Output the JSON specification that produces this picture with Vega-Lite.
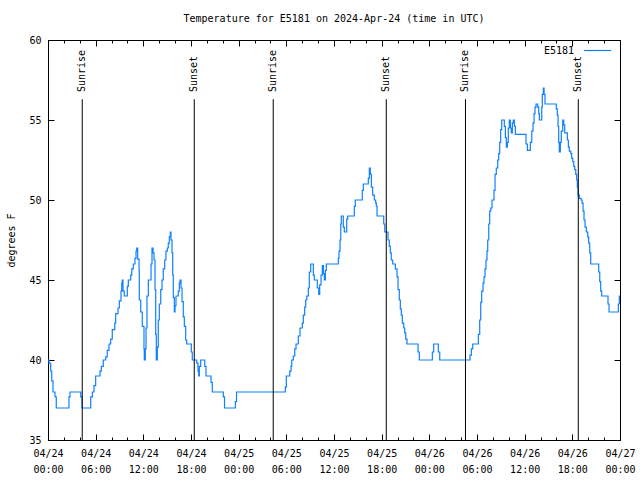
{
  "$schema": "https://vega.github.io/schema/vega-lite/v6.json",
  "width": 572,
  "height": 400,
  "autosize": "none",
  "padding": {"left": 48, "top": 40, "right": 20, "bottom": 40},
  "background": "white",
  "title": {"text": "Temperature for E5181 on 2024-Apr-24 (time in UTC)", "font": "DejaVu Sans Mono", "fontSize": 10, "fontWeight": "normal", "offset": 11, "color": "black", "anchor": "middle"},
  "config": {
    "view": {"stroke": "black", "strokeWidth": 1},
    "font": "DejaVu Sans Mono",
    "axis": {"domainColor": "black", "tickColor": "black", "labelColor": "black", "titleColor": "black", "labelFont": "DejaVu Sans Mono", "titleFont": "DejaVu Sans Mono", "labelFontSize": 10, "titleFontSize": 10, "titleFontWeight": "normal", "grid": false}
  },
  "datasets": {
    "temps": [
      {"hour":0,"temp":40},{"hour":0.13,"temp":39.8},{"hour":0.34,"temp":39.3},{"hour":0.47,"temp":38.7},{"hour":0.63,"temp":38},{"hour":0.88,"temp":37.7},{"hour":1.04,"temp":37},{"hour":2.64,"temp":37.7},{"hour":2.77,"temp":38},{"hour":4.12,"temp":37.7},{"hour":4.28,"temp":37},{"hour":5.38,"temp":37.7},{"hour":5.58,"temp":38},{"hour":5.79,"temp":38.4},{"hour":6.0,"temp":39},{"hour":6.55,"temp":39.3},{"hour":6.71,"temp":39.6},{"hour":6.96,"temp":40},{"hour":7.26,"temp":40.2},{"hour":7.46,"temp":40.6},{"hour":7.68,"temp":41},{"hour":7.89,"temp":41.3},{"hour":8.09,"temp":41.9},{"hour":8.4,"temp":42.3},{"hour":8.52,"temp":42.9},{"hour":8.81,"temp":43.25},{"hour":8.98,"temp":43.7},{"hour":9.19,"temp":44.3},{"hour":9.28,"temp":44.8},{"hour":9.35,"temp":45},{"hour":9.44,"temp":44.3},{"hour":9.6,"temp":44},{"hour":9.98,"temp":44.6},{"hour":10.11,"temp":45},{"hour":10.41,"temp":45.3},{"hour":10.54,"temp":45.7},{"hour":10.74,"temp":46},{"hour":10.95,"temp":46.35},{"hour":11.08,"temp":46.8},{"hour":11.17,"temp":47},{"hour":11.29,"temp":46.3},{"hour":11.46,"temp":45.6},{"hour":11.49,"temp":43.75},{"hour":11.67,"temp":43},{"hour":11.87,"temp":42.1},{"hour":12.08,"temp":40.7},{"hour":12.12,"temp":40},{"hour":12.25,"temp":40.7},{"hour":12.34,"temp":42},{"hour":12.46,"temp":44},{"hour":12.63,"temp":45},{"hour":12.97,"temp":46},{"hour":13.09,"temp":47},{"hour":13.22,"temp":46.7},{"hour":13.34,"temp":46.25},{"hour":13.47,"temp":44.4},{"hour":13.56,"temp":41.6},{"hour":13.63,"temp":40},{"hour":13.76,"temp":40.8},{"hour":13.88,"temp":42.5},{"hour":14.01,"temp":43.5},{"hour":14.19,"temp":44.4},{"hour":14.35,"temp":45},{"hour":14.51,"temp":45.7},{"hour":14.69,"temp":46.25},{"hour":14.85,"temp":46.8},{"hour":15.02,"temp":47},{"hour":15.14,"temp":47.3},{"hour":15.27,"temp":47.7},{"hour":15.4,"temp":48},{"hour":15.48,"temp":47.5},{"hour":15.61,"temp":46.7},{"hour":15.7,"temp":45.3},{"hour":15.77,"temp":43.9},{"hour":15.9,"temp":43},{"hour":15.99,"temp":43.4},{"hour":16.11,"temp":44},{"hour":16.4,"temp":44.3},{"hour":16.53,"temp":44.8},{"hour":16.62,"temp":45},{"hour":16.74,"temp":44.5},{"hour":16.87,"temp":43.65},{"hour":17.03,"temp":42.7},{"hour":17.16,"temp":42.1},{"hour":17.33,"temp":41.25},{"hour":17.46,"temp":41},{"hour":18.04,"temp":40.5},{"hour":18.16,"temp":40},{"hour":18.72,"temp":39.8},{"hour":18.88,"temp":39.3},{"hour":18.97,"temp":39},{"hour":19.05,"temp":39.6},{"hour":19.22,"temp":40},{"hour":19.73,"temp":39.6},{"hour":19.89,"temp":39},{"hour":20.52,"temp":38.6},{"hour":20.68,"temp":38},{"hour":22.07,"temp":37.7},{"hour":22.22,"temp":37},{"hour":23.58,"temp":37.4},{"hour":23.73,"temp":38},{"hour":29.87,"temp":38.3},{"hour":30.0,"temp":39},{"hour":30.43,"temp":39.3},{"hour":30.59,"temp":39.6},{"hour":30.68,"temp":40},{"hour":30.88,"temp":40.25},{"hour":31.06,"temp":40.7},{"hour":31.22,"temp":41},{"hour":31.51,"temp":41.5},{"hour":31.72,"temp":42},{"hour":32.01,"temp":42.3},{"hour":32.14,"temp":42.8},{"hour":32.31,"temp":43.3},{"hour":32.44,"temp":43.75},{"hour":32.57,"temp":44},{"hour":32.77,"temp":44.5},{"hour":32.89,"temp":45.5},{"hour":33.07,"temp":46},{"hour":33.4,"temp":45.3},{"hour":33.52,"temp":45},{"hour":33.9,"temp":44.5},{"hour":34.08,"temp":44.1},{"hour":34.2,"temp":44.7},{"hour":34.37,"temp":45.3},{"hour":34.53,"temp":45.9},{"hour":34.66,"temp":45.4},{"hour":34.78,"temp":45},{"hour":34.91,"temp":45.6},{"hour":35.03,"temp":46},{"hour":36.54,"temp":46.35},{"hour":36.63,"temp":46.8},{"hour":36.76,"temp":47.5},{"hour":36.85,"temp":48.5},{"hour":36.92,"temp":49},{"hour":37.17,"temp":48.3},{"hour":37.3,"temp":48},{"hour":37.6,"temp":48.8},{"hour":37.73,"temp":49},{"hour":38.56,"temp":49.6},{"hour":38.68,"temp":50},{"hour":39.56,"temp":50.6},{"hour":39.69,"temp":51},{"hour":40.32,"temp":51.35},{"hour":40.45,"temp":52},{"hour":40.57,"temp":51.6},{"hour":40.7,"temp":50.8},{"hour":40.87,"temp":50.3},{"hour":41.08,"temp":50},{"hour":41.25,"temp":49.8},{"hour":41.33,"temp":49.6},{"hour":41.42,"temp":49},{"hour":42.26,"temp":48.5},{"hour":42.39,"temp":48},{"hour":42.8,"temp":47.5},{"hour":42.96,"temp":47.1},{"hour":43.09,"temp":46.7},{"hour":43.21,"temp":46.25},{"hour":43.39,"temp":46},{"hour":43.72,"temp":45.7},{"hour":43.93,"temp":45.2},{"hour":44.06,"temp":44.4},{"hour":44.22,"temp":43.75},{"hour":44.35,"temp":43.2},{"hour":44.47,"temp":42.8},{"hour":44.6,"temp":42.3},{"hour":44.78,"temp":42},{"hour":44.9,"temp":41.7},{"hour":45.03,"temp":41.3},{"hour":45.19,"temp":41},{"hour":46.58,"temp":40.5},{"hour":46.74,"temp":40},{"hour":48.38,"temp":40.5},{"hour":48.55,"temp":41},{"hour":49.13,"temp":40.5},{"hour":49.31,"temp":40},{"hour":53.12,"temp":40.3},{"hour":53.29,"temp":40.7},{"hour":53.46,"temp":41},{"hour":54.17,"temp":41.6},{"hour":54.34,"temp":42.5},{"hour":54.47,"temp":43.6},{"hour":54.59,"temp":44.3},{"hour":54.76,"temp":44.8},{"hour":54.88,"temp":45.2},{"hour":55.01,"temp":45.7},{"hour":55.13,"temp":46.25},{"hour":55.26,"temp":46.8},{"hour":55.35,"temp":47.5},{"hour":55.48,"temp":48.5},{"hour":55.6,"temp":49.3},{"hour":55.73,"temp":49.5},{"hour":55.89,"temp":50},{"hour":56.14,"temp":50.6},{"hour":56.27,"temp":51.6},{"hour":56.43,"temp":52},{"hour":56.61,"temp":52.5},{"hour":56.73,"temp":52.9},{"hour":56.86,"temp":53.6},{"hour":56.98,"temp":54.4},{"hour":57.11,"temp":55},{"hour":57.44,"temp":54.6},{"hour":57.57,"temp":53.9},{"hour":57.69,"temp":53.3},{"hour":57.82,"temp":53.6},{"hour":57.94,"temp":54.5},{"hour":58.07,"temp":55},{"hour":58.2,"temp":54.5},{"hour":58.32,"temp":54.2},{"hour":58.45,"temp":54.8},{"hour":58.57,"temp":55},{"hour":58.7,"temp":54.6},{"hour":58.83,"temp":54.1},{"hour":60.17,"temp":53.5},{"hour":60.34,"temp":53.1},{"hour":60.71,"temp":53.6},{"hour":60.89,"temp":54.3},{"hour":61.05,"temp":54.8},{"hour":61.18,"temp":55.4},{"hour":61.3,"temp":55.8},{"hour":61.43,"temp":56},{"hour":61.64,"temp":55.8},{"hour":61.77,"temp":55.4},{"hour":61.85,"temp":55},{"hour":62.15,"temp":55.8},{"hour":62.22,"temp":56.6},{"hour":62.35,"temp":57},{"hour":62.44,"temp":56.6},{"hour":62.56,"temp":56},{"hour":63.98,"temp":55.7},{"hour":64.11,"temp":55.3},{"hour":64.2,"temp":54.6},{"hour":64.28,"temp":53.6},{"hour":64.36,"temp":53},{"hour":64.49,"temp":53.6},{"hour":64.61,"temp":54.3},{"hour":64.79,"temp":55},{"hour":64.91,"temp":54.7},{"hour":65.04,"temp":54.2},{"hour":65.37,"temp":53.75},{"hour":65.5,"temp":53.3},{"hour":65.62,"temp":53.06},{"hour":65.8,"temp":52.9},{"hour":65.92,"temp":52.6},{"hour":66.05,"temp":52.4},{"hour":66.18,"temp":52.1},{"hour":66.3,"temp":51.9},{"hour":66.43,"temp":51.6},{"hour":66.55,"temp":51.25},{"hour":66.63,"temp":50.8},{"hour":66.72,"temp":50.3},{"hour":66.88,"temp":50.1},{"hour":67.1,"temp":50},{"hour":67.22,"temp":49.8},{"hour":67.35,"temp":49.3},{"hour":67.47,"temp":48.75},{"hour":67.6,"temp":48.3},{"hour":67.76,"temp":48},{"hour":67.94,"temp":47.7},{"hour":68.06,"temp":47.3},{"hour":68.19,"temp":46.7},{"hour":68.31,"temp":46},{"hour":69.32,"temp":45.5},{"hour":69.45,"temp":44.9},{"hour":69.57,"temp":44.3},{"hour":69.7,"temp":44},{"hour":70.49,"temp":43.5},{"hour":70.62,"temp":43},{"hour":71.79,"temp":43.5},{"hour":71.92,"temp":44},{"hour":72,"temp":44}
    ],
    "sun": [
      {"hour": 4.31, "event": "Sunrise"},
      {"hour": 18.41, "event": "Sunset"},
      {"hour": 28.35, "event": "Sunrise"},
      {"hour": 42.58, "event": "Sunset"},
      {"hour": 52.55, "event": "Sunrise"},
      {"hour": 66.75, "event": "Sunset"}
    ]
  },
  "layer": [
    {
      "data": {"name": "temps"},
      "mark": {"type": "line", "interpolate": "step-after", "strokeWidth": 1.2},
      "encoding": {
        "x": {"field": "hour", "type": "quantitative", "scale": {"domain": [0, 72], "nice": false, "zero": false},
          "axis": {"orient": "bottom", "title": null, "values": [0,2,4,6,8,10,12,14,16,18,20,22,24,26,28,30,32,34,36,38,40,42,44,46,48,50,52,54,56,58,60,62,64,66,68,70,72],
            "labelExpr": "datum.value % 6 == 0 ? ['04/' + (24 + floor(datum.value / 24)), (datum.value % 24 < 10 ? '0' : '') + (datum.value % 24) + ':00'] : ''",
            "tickSize": {"condition": {"test": "datum.value % 6 == 0", "value": -6}, "value": -3},
            "labelPadding": 14, "labelLineHeight": 16, "labelBaseline": "top", "labelAngle": 0, "labelFlush": false, "labelOverlap": false}},
        "y": {"field": "temp", "type": "quantitative", "scale": {"domain": [35, 60], "nice": false, "zero": false},
          "axis": {"orient": "left", "title": "degrees F", "values": [35,40,45,50,55,60], "tickSize": -6, "labelPadding": 13, "titlePadding": 12}},
        "color": {"datum": "E5181", "scale": {"range": ["#0f80ff"]},
          "legend": {"orient": "none", "legendX": 535, "legendY": -4, "title": null, "symbolType": "stroke", "symbolSize": 729, "symbolStrokeWidth": 1.2, "labelAlign": "right", "labelOffset": -38, "labelFont": "DejaVu Sans Mono", "labelFontSize": 10, "labelColor": "black", "padding": 0}}
      }
    },
    {
      "data": {"name": "sun"},
      "mark": {"type": "rule", "color": "black", "strokeWidth": 1},
      "encoding": {
        "x": {"field": "hour", "type": "quantitative", "axis": {"orient": "top", "title": null, "labels": false, "values": [0,2,4,6,8,10,12,14,16,18,20,22,24,26,28,30,32,34,36,38,40,42,44,46,48,50,52,54,56,58,60,62,64,66,68,70,72], "tickSize": {"condition": {"test": "datum.value % 6 == 0", "value": -6}, "value": -3}}},
        "y": {"datum": 56.3, "type": "quantitative", "axis": {"orient": "right", "title": null, "labels": false, "values": [35,40,45,50,55,60], "tickSize": -6}},
        "y2": {"datum": 35}
      }
    },
    {
      "data": {"name": "sun"},
      "mark": {"type": "text", "angle": 270, "align": "left", "baseline": "middle", "font": "DejaVu Sans Mono", "fontSize": 10, "color": "black"},
      "encoding": {
        "x": {"field": "hour", "type": "quantitative", "axis": null},
        "y": {"datum": 56.75, "type": "quantitative", "axis": null},
        "text": {"field": "event"}
      }
    }
  ],
  "resolve": {"axis": {"x": "independent", "y": "independent"}}
}
